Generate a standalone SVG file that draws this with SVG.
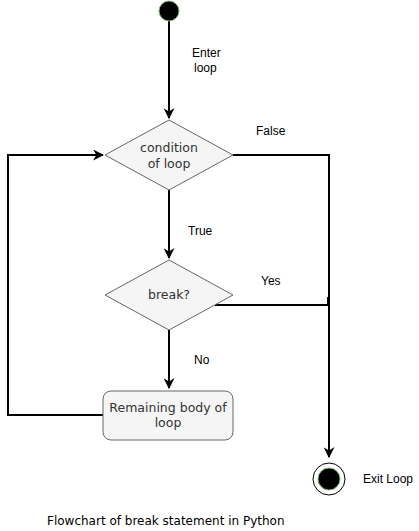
<svg xmlns="http://www.w3.org/2000/svg" width="419" height="531" viewBox="0 0 419 531">
<style>
.shape{fill:#f5f5f5;stroke:#666666;stroke-width:1}
.ntext{font-family:"DejaVu Sans",Verdana,sans-serif;font-size:12.5px;fill:#333333;text-anchor:middle}
.lbl{font-family:"Liberation Sans",Arial,sans-serif;font-size:12px;fill:#000000}
.edge{fill:none;stroke:#000000;stroke-width:2}
.cap{font-family:"DejaVu Sans",Verdana,sans-serif;font-size:12px;fill:#000000}
</style>
<defs>
<marker id="arr" viewBox="0 0 10 10" refX="9" refY="5" markerWidth="5.5" markerHeight="5.5" orient="auto" markerUnits="strokeWidth">
<path d="M0,0 L10,5 L0,10 L3,5 Z" fill="#000000"/>
</marker>
</defs>
<rect width="419" height="531" fill="#ffffff"/>
<g id="edges">
<path class="edge" d="M169,21 V118" marker-end="url(#arr)"/>
<path class="edge" d="M169,190 V258" marker-end="url(#arr)"/>
<path class="edge" d="M169,330 V388" marker-end="url(#arr)"/>
<path class="edge" d="M103,415 H8 V155 H103" marker-end="url(#arr)"/>
<path class="edge" d="M233,155 H329 V457" marker-end="url(#arr)"/>
<path class="edge" d="M215,305 H328 V297" stroke="#333333"/>
<text class="lbl" x="192" y="57" font-size="11">Enter</text>
<text class="lbl" x="194" y="72" font-size="11">loop</text>
<text class="lbl" x="256" y="135">False</text>
<text class="lbl" x="188" y="235">True</text>
<text class="lbl" x="261" y="285">Yes</text>
<text class="lbl" x="194" y="364">No</text>
</g>
<g id="start">
<circle cx="169" cy="11" r="10" fill="#000000" stroke="#82b366" stroke-width="1"/>
</g>
<g id="condition">
<polygon class="shape" points="169,120 233,155 169,190 105,155"/>
<text class="ntext" x="169" y="152">condition</text>
<text class="ntext" x="169" y="168">of loop</text>
</g>
<g id="break">
<polygon class="shape" points="169,260 233,295 169,330 105,295"/>
<text class="ntext" x="169" y="299">break?</text>
</g>
<g id="body">
<rect class="shape" x="103" y="391" width="130" height="49" rx="8" ry="8"/>
<text class="ntext" x="168" y="412">Remaining body of</text>
<text class="ntext" x="168" y="427">loop</text>
</g>
<g id="exit">
<circle cx="329" cy="479" r="16" fill="#ffffff" stroke="#000000" stroke-width="1"/>
<circle cx="329" cy="479" r="11" fill="#000000" stroke="#82b366" stroke-width="1"/>
<text class="lbl" x="363" y="483" font-size="11">Exit Loop</text>
</g>
<g id="caption">
<text class="cap" x="47" y="525">Flowchart of break statement in Python</text>
</g>
</svg>
